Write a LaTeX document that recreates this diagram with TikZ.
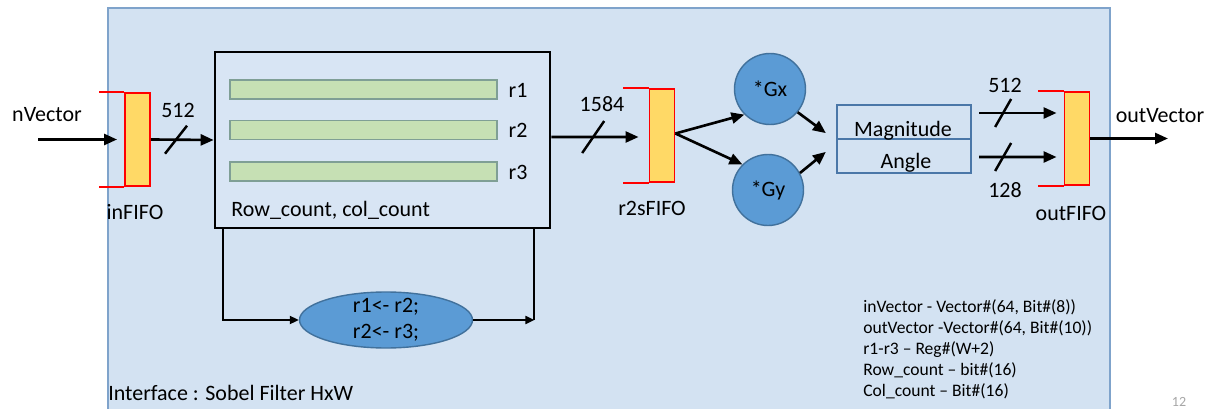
\documentclass[tikz,border=0pt]{standalone}
\usepackage{fontspec}
\setmainfont{Carlito}
\usetikzlibrary{arrows.meta, shapes.geometric}
\definecolor{bgblue}{HTML}{D3E2F2}
\definecolor{bgedge}{HTML}{7FA3CB}
\definecolor{ovalblue}{HTML}{5B9BD5}
\definecolor{ovaledge}{HTML}{41719C}
\definecolor{barfill}{HTML}{C6E0B4}
\definecolor{baredge}{HTML}{7F9F95}
\definecolor{fifofill}{HTML}{FFD966}
\definecolor{boxedge}{HTML}{4A77A8}
\begin{document}
\begin{tikzpicture}[
  x=0.02cm, y=-0.02cm,
  every node/.style={font=\fontsize{12.5}{15}\selectfont},
  fifobox/.style={rectangle, draw=red, line width=1.1pt, fill=fifofill,
    minimum width=0.5cm, minimum height=1.86cm, inner sep=0},
  fifoline/.style={draw=red, line width=1.1pt},
  mainbox/.style={rectangle, draw=black, line width=1.6pt, fill=bgblue!88!white,
    minimum width=6.7cm, minimum height=3.52cm, inner sep=0},
  regbar/.style={rectangle, draw=baredge, line width=0.8pt, fill=barfill,
    minimum width=5.34cm, minimum height=0.38cm, inner sep=0},
  opcircle/.style={circle, draw=ovaledge, line width=0.8pt, fill=ovalblue,
    minimum size=1.42cm, inner sep=0},
  shiftoval/.style={ellipse, draw=ovaledge, line width=0.8pt, fill=ovalblue,
    minimum width=3.46cm, minimum height=1.12cm, inner sep=0},
  outbox/.style={rectangle, draw=boxedge, line width=1.3pt, fill=bgblue,
    minimum width=2.68cm, minimum height=0.68cm, inner sep=0},
  legend/.style={font=\fontsize{10}{12}\selectfont, align=left, inner sep=0},
  arr/.style={-{Triangle[length=0.26cm, width=0.22cm]}, line width=1.5pt},
  looparr/.style={-{Triangle[length=0.18cm, width=0.16cm]}, line width=1.1pt},
  busmark/.style={line width=1.4pt}
]
\useasboundingbox (0,0) rectangle (1211,409);

% Interface background
\fill[bgblue] (108,8) rectangle (1110,409);
\draw[bgedge, line width=0.8pt] (108,409) -- (108,8) -- (1110,8) -- (1110,409);

% Input FIFO
\node[fifobox] (infifo) at (137.5, 139.5) {};
\draw[fifoline] (infifo.north west) -- ++(-25,0);
\draw[fifoline] (infifo.south west) -- ++(-25,0);
\node[anchor=base] (nvlabel) at (47, 121) {nVector};
\node[anchor=base] (inlabel) at (135, 219) {inFIFO};
\coordinate (vin) at (38, 139.5);
\draw[arr] (vin) -- ([xshift=-0.14cm]infifo.west);

% Row buffer block
\node[mainbox] (rowbuf) at (382.5, 140) {};
\node[regbar] (r1bar) at (363.5, 89.5) {};
\node[regbar] (r2bar) at (363.5, 130) {};
\node[regbar] (r3bar) at (363.5, 171.5) {};
\node (r1lbl) at (518, 90) {r1};
\node (r2lbl) at (518, 130) {r2};
\node (r3lbl) at (518, 172) {r3};
\node[anchor=base west, inner sep=0] (cntlbl) at (231, 216) {Row\_count, col\_count};

\draw[arr] (infifo.east) -- coordinate[pos=0.4] (bus1) (rowbuf.west);
\draw[busmark] (bus1) ++(-11,14) -- ++(22,-28);
\node[anchor=base] (w512in) at (178, 117) {512};

% Shift loop
\node[shiftoval] (shift) at (386, 320) {};
\node[align=center] (shifttxt) at (386, 320) {r1<- r2;\\r2<- r3;};
\draw[looparr] ([xshift=0.18cm]rowbuf.south west) |- (shift.west);
\coordinate (loopup) at ([xshift=-0.34cm]rowbuf.south east);
\draw[line width=1.1pt] (loopup) -- (loopup |- shift.east);
\draw[looparr] (shift.east) -- (loopup |- shift.east);

% Row-to-stream FIFO
\node[fifobox] (r2sfifo) at (662, 135.5) {};
\draw[fifoline] (r2sfifo.north west) -- ++(-26,0);
\draw[fifoline] (r2sfifo.south west) -- ++(-26,0);
\node[anchor=base] (r2slabel) at (652, 215) {r2sFIFO};
\draw[arr] ([yshift=0.06cm]rowbuf.east) -- coordinate[pos=0.48] (bus2) ([shift={(-10,1.5)}]r2sfifo.west);
\draw[busmark] (bus2) ++(-11,16) -- ++(22,-32);
\node[anchor=base] (w1584) at (602, 111) {1584};

% Sobel kernels
\node[opcircle] (gx) at (770, 89) {*Gx};
\node[opcircle] (gy) at (768, 190) {*Gy};
\draw[arr] ([yshift=0.04cm]r2sfifo.east) -- (gx.225);
\draw[arr] ([yshift=0.04cm]r2sfifo.east) -- (gy.135);

% Magnitude / angle
\node[outbox] (mag) at (904, 122) {};
\node[outbox] (ang) at (904, 156) {};
\node[anchor=base] (magtxt) at (903, 136) {Magnitude};
\node[anchor=base] (angtxt) at (906, 168) {Angle};
\draw[arr] (gx.-40) -- ([shift={(-10,-7)}]mag.south west);
\draw[arr] (gy.28) -- ([shift={(-10,14)}]ang.north west);

% Output FIFO
\node[fifobox] (outfifo) at (1077, 138.5) {};
\draw[fifoline] (outfifo.north west) -- ++(-26,0);
\draw[fifoline] (outfifo.south west) -- ++(-26,0);
\node[anchor=base] (outlabel) at (1071, 220) {outFIFO};
\draw[arr] ([shift={(7,-9)}]mag.east) -- coordinate[pos=0.31] (bus3) ([shift={(-7,-25.5)}]outfifo.west);
\draw[busmark] (bus3) ++(-8,14) -- ++(16,-28);
\draw[arr] ([shift={(7,1)}]ang.east) -- coordinate[pos=0.31] (bus4) ([shift={(-7,18.5)}]outfifo.west);
\draw[busmark] (bus4) ++(-8,14) -- ++(16,-28);
\node[anchor=base] (w512out) at (1005, 92) {512};
\node[anchor=base] (w128) at (1005, 197) {128};
\coordinate (vout) at (1168, 138.5);
\draw[arr] (outfifo.east) -- (vout);
\node[anchor=base] (ovlabel) at (1160, 122) {outVector};

% Type notes
\node[legend, anchor=north west] (types) at (863, 299)
  {inVector - Vector\#(64, Bit\#(8))\\outVector -Vector\#(64, Bit\#(10))\\r1-r3 – Reg\#(W+2)\\Row\_count – bit\#(16)\\Col\_count – Bit\#(16)};
\node[anchor=base west, inner sep=0] (iface) at (108, 400) {Interface : Sobel Filter HxW};
\node[font=\fontsize{8}{10}\selectfont, text=gray!70] (pagenum) at (1179, 402) {12};

\end{tikzpicture}
\end{document}
